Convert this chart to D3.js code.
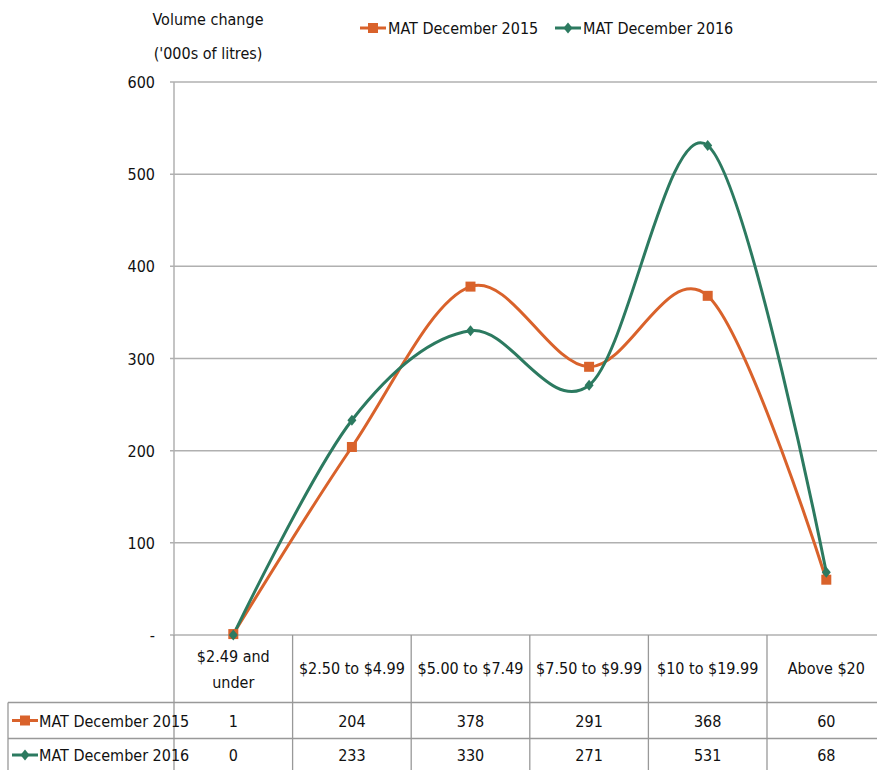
<!DOCTYPE html>
<html lang="en">
<head>
<meta charset="utf-8">
<title>Volume change</title>
<script src="https://cdn.jsdelivr.net/npm/d3@7"></script>
<style>
  body { margin: 0; background: #fff; }
  svg text { font-family: "Liberation Sans Narrow", "DejaVu Sans Condensed", "Roboto", sans-serif; font-size: 16px; fill: #111; }
  .grid line { stroke: #b0b0b0; stroke-width: 1.5; }
  .tbl line { stroke: #999; stroke-width: 1.3; }
</style>
</head>
<body>
<svg width="877" height="770"></svg>
<script>
  var categories = [["$2.49 and", "under"], ["$2.50 to $4.99"], ["$5.00 to $7.49"], ["$7.50 to $9.99"], ["$10 to $19.99"], ["Above $20"]];
  var seriesNames = ["MAT December 2015", "MAT December 2016"];
  var values2015 = [1, 204, 378, 291, 368, 60];
  var values2016 = [0, 233, 330, 271, 531, 68];
  var yTicks = [0, 100, 200, 300, 400, 500, 600];
  var colors = ["#d9622b", "#2c7a60"];

  var svg = d3.select("svg");
  var plotL = 174, plotR = 885.6, plotT = 82, plotB = 635;

  var x = d3.scaleBand().domain(d3.range(categories.length)).range([plotL, plotR]);
  var y = d3.scaleLinear().domain([0, 600]).range([plotB, plotT]);

  // gridlines
  var grid = svg.append("g").attr("class", "grid");
  grid.selectAll("line.h").data(yTicks).enter().append("line")
    .attr("x1", plotL - 4).attr("x2", 877)
    .attr("y1", function(d) { return y(d); }).attr("y2", function(d) { return y(d); });
  grid.append("line").attr("x1", plotL).attr("x2", plotL).attr("y1", plotT).attr("y2", plotB);

  svg.append("g").selectAll("text").data(yTicks).enter().append("text")
    .attr("x", 155).attr("y", function(d) { return y(d) + 6; })
    .attr("text-anchor", "end")
    .text(function(d) { return d === 0 ? "-" : d; });

  // axis title
  svg.append("text").attr("x", 208).attr("y", 25).attr("text-anchor", "middle").text("Volume change");
  svg.append("text").attr("x", 208).attr("y", 59).attr("text-anchor", "middle").text("('000s of litres)");

  // lines
  var series = [values2015, values2016];
  var line = d3.line()
    .x(function(d, i) { return x(i) + x.bandwidth() / 2; })
    .y(function(d) { return y(d); })
    .curve(d3.curveCatmullRom.alpha(0));

  series.forEach(function(vals, s) {
    svg.append("path").attr("d", line(vals))
      .attr("fill", "none").attr("stroke", colors[s]).attr("stroke-width", 3);
  });

  function marker(g, s, cx, cy) {
    if (s === 0) {
      g.append("rect").attr("x", cx - 5).attr("y", cy - 5).attr("width", 10).attr("height", 10).attr("fill", colors[0]);
    } else {
      g.append("path").attr("d", "M" + cx + "," + (cy - 5.5) + "L" + (cx + 4.5) + "," + cy + "L" + cx + "," + (cy + 5.5) + "L" + (cx - 4.5) + "," + cy + "Z")
        .attr("fill", colors[1]);
    }
  }

  series.forEach(function(vals, s) {
    var g = svg.append("g");
    vals.forEach(function(v, i) { marker(g, s, x(i) + x.bandwidth() / 2, y(v)); });
  });

  // legend
  var legX = [360, 555];
  seriesNames.forEach(function(name, s) {
    var g = svg.append("g");
    g.append("line").attr("x1", legX[s]).attr("x2", legX[s] + 26).attr("y1", 28).attr("y2", 28)
      .attr("stroke", colors[s]).attr("stroke-width", 3);
    marker(g, s, legX[s] + 13, 28);
    g.append("text").attr("x", legX[s] + 28).attr("y", 34).text(name);
  });

  // data table
  var tbl = svg.append("g").attr("class", "tbl");
  var rowY = [635, 702.5, 738.5, 775];
  tbl.selectAll("line.v").data(d3.range(categories.length + 1)).enter().append("line")
    .attr("x1", function(i) { return plotL + i * x.bandwidth(); })
    .attr("x2", function(i) { return plotL + i * x.bandwidth(); })
    .attr("y1", plotB).attr("y2", 770);
  tbl.append("line").attr("x1", 8).attr("x2", 8).attr("y1", rowY[1]).attr("y2", 770);
  [1, 2].forEach(function(r) {
    tbl.append("line").attr("x1", 8).attr("x2", 877).attr("y1", rowY[r]).attr("y2", rowY[r]);
  });

  categories.forEach(function(lines, i) {
    var cx = x(i) + x.bandwidth() / 2;
    lines.forEach(function(t, k) {
      svg.append("text").attr("x", cx).attr("text-anchor", "middle")
        .attr("y", lines.length === 1 ? 674 : 662 + k * 26).text(t);
    });
  });

  series.forEach(function(vals, s) {
    var cy = (rowY[s + 1] + rowY[s + 2]) / 2;
    if (s === 1) cy = 755;
    var g = svg.append("g");
    g.append("line").attr("x1", 12).attr("x2", 38).attr("y1", cy).attr("y2", cy)
      .attr("stroke", colors[s]).attr("stroke-width", 3);
    marker(g, s, 25, cy);
    g.append("text").attr("x", 39).attr("y", cy + 6).text(seriesNames[s]);
    vals.forEach(function(v, i) {
      g.append("text").attr("x", x(i) + x.bandwidth() / 2).attr("y", cy + 6)
        .attr("text-anchor", "middle").text(v);
    });
  });
</script>
</body>
</html>
